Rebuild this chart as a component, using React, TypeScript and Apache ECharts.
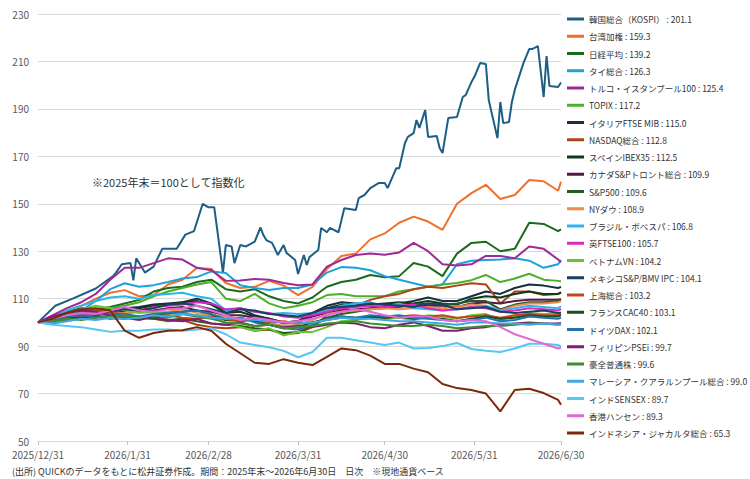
import React, { useEffect, useRef } from "react";
import * as echarts from "echarts";

const FONT = "'Noto Sans CJK JP', 'Noto Sans', sans-serif";

const tickDates = ["2025/12/31", "2026/1/31", "2026/2/28", "2026/3/31", "2026/4/30", "2026/5/31", "2026/6/30"];

const dates = [
  "2025/12/31", "2026/1/5", "2026/1/10", "2026/1/15", "2026/1/20", "2026/1/25", "2026/1/30",
  "2026/2/4", "2026/2/9", "2026/2/14", "2026/2/19", "2026/2/24", "2026/3/1", "2026/3/6",
  "2026/3/11", "2026/3/16", "2026/3/21", "2026/3/26", "2026/3/31", "2026/4/5", "2026/4/10",
  "2026/4/15", "2026/4/20", "2026/4/25", "2026/4/30", "2026/5/5", "2026/5/10", "2026/5/15",
  "2026/5/20", "2026/5/25", "2026/5/30", "2026/6/4", "2026/6/9", "2026/6/14", "2026/6/19",
  "2026/6/24", "2026/6/29", "2026/6/30",
];

const kospiDates = [
  "2025/12/31", "2026/1/6", "2026/1/12", "2026/1/20", "2026/1/26", "2026/1/27", "2026/1/29", "2026/2/1",
  "2026/2/2", "2026/2/3", "2026/2/5", "2026/2/6", "2026/2/9", "2026/2/12", "2026/2/17", "2026/2/20",
  "2026/2/23", "2026/2/26", "2026/2/28", "2026/3/2", "2026/3/5", "2026/3/6", "2026/3/8", "2026/3/9",
  "2026/3/11", "2026/3/13", "2026/3/16", "2026/3/18", "2026/3/19", "2026/3/20", "2026/3/22", "2026/3/24",
  "2026/3/26", "2026/3/27", "2026/3/30", "2026/3/31", "2026/4/2", "2026/4/3", "2026/4/4", "2026/4/7",
  "2026/4/8", "2026/4/10", "2026/4/11", "2026/4/14", "2026/4/15", "2026/4/16", "2026/4/20", "2026/4/21",
  "2026/4/23", "2026/4/25", "2026/4/28", "2026/4/30", "2026/5/1", "2026/5/4", "2026/5/5", "2026/5/7",
  "2026/5/8", "2026/5/10", "2026/5/11", "2026/5/12", "2026/5/14", "2026/5/15", "2026/5/18", "2026/5/19",
  "2026/5/20", "2026/5/22", "2026/5/25", "2026/5/27", "2026/5/28", "2026/5/30", "2026/5/31", "2026/6/2",
  "2026/6/4", "2026/6/5", "2026/6/8", "2026/6/9", "2026/6/10", "2026/6/12", "2026/6/13", "2026/6/14",
  "2026/6/17", "2026/6/19", "2026/6/20", "2026/6/22", "2026/6/24", "2026/6/25", "2026/6/26", "2026/6/29",
  "2026/6/30",
];
const kospi = [
  100, 107, 110, 114.3, 119.5, 121, 124.5, 125,
  117.7, 127, 123, 121, 123.5, 131, 131, 137,
  138.5, 150, 148.5, 148.5, 121, 132.6, 132, 125,
  132.6, 132, 134, 140, 136.8, 134.7, 133.5, 128.4,
  132.6, 129.3, 126.3, 120.4, 128.4, 124.2, 127.6, 130.5,
  139.8, 138, 139.8, 138, 143, 148.1, 147.4, 152.4,
  153.7, 156.6, 158.8, 158.8, 156.6, 165, 165, 175.6,
  178.2, 179.8, 185.3, 182, 189.5, 178.2, 178.6, 173.5,
  171.4, 186.2, 186.6, 195, 195.8, 201.3, 203.4, 209.3,
  208.9, 193.7, 177.7, 192.9, 184, 184.5, 192.9, 198,
  209.3, 215.2, 215.2, 216.5, 195, 212.3, 199.6, 199.2,
  201.1,
];

const taiwan = [100, 102.5, 105, 107, 110, 112.5, 113.6, 111, 111.5, 116, 118, 122.9, 122.5, 116.6, 114.5, 115, 117.5, 115.5, 111.5, 115, 122.5, 128, 129, 135, 137.5, 142, 144.6, 142.5, 139, 150, 154.5, 158, 152, 153.7, 160, 159.5, 155.5, 159.3];
const nikkei = [100, 102, 104.5, 106, 105.5, 106.5, 108, 109.5, 113, 114.5, 115, 117, 118, 114, 113, 114, 111, 109, 108, 110.5, 115, 117, 118, 120, 119, 119.5, 125, 123.5, 119.5, 129, 133.5, 134, 130, 131, 142, 141.5, 138.5, 139.2];
const thai = [100, 101, 103, 105, 109, 114, 116.5, 115, 115.7, 117, 118.5, 119.1, 121.5, 120.8, 115.7, 114.5, 113.7, 114.5, 114.5, 116, 121, 123.3, 123, 122, 119.5, 118, 116.5, 115, 116, 124.5, 126, 126.3, 126.5, 127, 126, 123, 124.5, 126.3];
const turkey = [100, 103, 106, 108.5, 112, 118, 123, 123, 125, 127, 126.5, 123, 122, 117.5, 117.7, 118.3, 118, 116.6, 115.7, 116, 123.5, 126.3, 128.4, 129, 128.5, 129.5, 133.5, 130, 124.5, 124, 124.5, 128, 128, 127, 132, 131, 126.5, 125.4];
const topix = [100, 101.5, 104, 105.5, 105, 106, 107, 108.5, 111, 113, 114.5, 116, 117, 110, 109, 112, 108, 106, 107, 108.5, 111.5, 112, 111, 111, 111, 113, 114, 115, 116, 116.6, 117.8, 120, 117, 118.5, 120.5, 118, 117.5, 117.2];
const italy = [100, 102, 104, 105, 104.5, 105.5, 106, 106.5, 107.5, 108, 108.5, 110, 108, 105, 106, 103, 101.5, 100, 100.5, 104, 107, 108.5, 108, 108, 107, 108, 109, 110.5, 109, 109, 111, 113, 112, 114.5, 116, 115.5, 114.5, 115];
const nasdaq = [100, 99.5, 101, 102.5, 103, 102, 103, 102, 101.5, 100.5, 101, 99, 98, 97.5, 98, 96.5, 97, 95, 95.5, 98, 103, 105.5, 107, 109.5, 111, 112, 114, 115, 114.5, 115.5, 116.5, 116, 108, 113, 113, 111.5, 112, 112.8];
const spain = [100, 101.5, 102.5, 103.5, 104, 105, 104.5, 106, 107, 107.5, 108.5, 109, 107.5, 104, 104.5, 102.5, 101.5, 99.5, 100, 103, 106, 107.5, 107, 107.5, 108, 108.5, 108, 109, 108, 107.5, 110, 111, 110.5, 112, 113, 112, 112, 112.5];
const canada = [100, 101, 102, 103, 104, 103.5, 104, 104.5, 105, 106, 106.5, 105, 104.5, 103, 103, 102, 101.5, 100, 100.5, 102.5, 104, 105, 105.5, 106, 106.5, 107, 107.5, 107, 107, 106.5, 108, 108.5, 108, 109, 109.5, 109.5, 109.5, 109.9];
const sp500 = [100, 100.5, 101.5, 102, 102.5, 101.5, 102, 102, 101.5, 101, 101.5, 100.5, 99.5, 99, 98.5, 97.5, 97, 95.5, 96, 98.5, 102, 103.5, 104.5, 105.5, 106, 106.5, 107.5, 108, 107.5, 108, 109, 109, 105.5, 107.5, 108.5, 108.5, 109, 109.6];
const nyDow = [100, 101, 102.5, 103.5, 104.5, 103.5, 104, 104.5, 104, 104.5, 105.5, 104, 103, 102.5, 101.5, 101, 100, 98.5, 99, 101, 103.5, 104.5, 105, 105.5, 106, 105.5, 106, 106.5, 106, 106.5, 107.5, 107, 105, 107, 108, 108, 108.5, 108.9];
const brazil = [100, 102, 105, 107, 109, 110.5, 111, 110, 111.5, 112, 112.5, 111, 110, 105, 106, 104.5, 103.5, 104, 103.5, 104, 105, 107, 108, 108.5, 106.5, 108, 106, 105.5, 105, 105.5, 106.5, 107, 105, 106, 107, 106.5, 106, 106.8];
const ftse = [100, 101.5, 102.5, 103, 103.5, 104, 105.5, 105, 106.5, 107, 107.5, 108.5, 108, 105.5, 106, 104.5, 104, 102.5, 102, 103, 104.5, 106, 106.5, 107, 106.5, 107, 107.5, 106, 105, 105.5, 106.5, 106, 104.5, 105, 106, 105.5, 105, 105.7];
const vietnam = [100, 101, 103, 105.5, 107, 106, 105, 104, 104.5, 103.5, 104, 103, 102.5, 99.5, 98, 96.5, 97.5, 94.5, 96, 96, 98, 100.5, 101, 102, 101.5, 102, 101, 103, 102.5, 101.5, 103, 103.5, 101, 102.5, 104, 103.5, 103.5, 104.2];
const mexico = [100, 101.5, 103, 104, 103.5, 104.5, 105.5, 105, 106, 107.5, 108, 107, 105.5, 104, 105.5, 105, 103.5, 103, 102.5, 104, 106, 106.5, 107, 108, 107.5, 107, 106.5, 108, 107.5, 105.5, 106, 106.5, 104.5, 104, 104.5, 105, 104, 104.1];
const shanghai = [100, 101, 102.5, 104, 105.5, 104.5, 103, 102, 102.5, 103, 102, 101.5, 102.5, 101, 100.5, 101, 100, 100.5, 99.5, 100, 101, 102, 101.5, 102.5, 102, 102.5, 103, 102.5, 103, 102, 102.5, 103, 102, 103, 103.5, 103, 103, 103.2];
const france = [100, 101.5, 102, 101.5, 102.5, 102, 101.5, 102.5, 103, 104, 104.5, 105, 103.5, 101, 102, 100.5, 99, 97.5, 98, 100, 101.5, 102.5, 102, 102.5, 102, 102.5, 101.5, 102, 101.5, 100.5, 101.5, 102.5, 101.5, 102, 103, 102.5, 102.5, 103.1];
const dax = [100, 101.5, 102.5, 103, 102, 103, 103.5, 102.5, 103.5, 104, 104.5, 105, 103.5, 101.5, 102, 100, 99, 97.5, 97, 99, 101.5, 102.5, 102, 103, 102.5, 103, 102, 101.5, 101, 100.5, 101, 102, 100.5, 101, 102.5, 102, 101.5, 102.1];
const philippines = [100, 102.5, 104, 105, 104.5, 103, 102, 101, 102.5, 101, 100.5, 101.5, 99.5, 99, 100, 98.5, 99, 98, 98.5, 98, 99, 100, 99.5, 98, 97.5, 99, 100, 98.5, 96.5, 96.5, 97.5, 98, 99, 99.5, 100, 99.5, 99.5, 99.7];
const australia = [100, 100.5, 101.5, 101, 102, 102.5, 103, 102, 103, 102, 103.5, 102.5, 101.5, 100, 99.5, 98.5, 99, 97.5, 98, 98.5, 99.5, 100, 100.5, 99.5, 99, 98.5, 98.5, 99, 98.5, 97.5, 98, 98.5, 98.5, 99, 99.5, 99.5, 99, 99.6];
const malaysia = [100, 99.5, 100.5, 101.5, 101, 102, 101.5, 102, 103, 102.5, 103.5, 103, 102, 101.5, 101.5, 101, 100.5, 100, 99.5, 100, 101, 102, 101.5, 101.5, 101, 100.5, 100.5, 100, 99.5, 99, 100, 100, 99.5, 99.5, 99, 99.5, 99, 99.0];
const india = [100, 99, 98.5, 98, 97, 96, 96.5, 96.5, 97, 97, 96.5, 97, 97.5, 95, 91.5, 90.5, 89.5, 88, 85.3, 87.5, 93.5, 93.5, 92.5, 91.5, 90.5, 91.5, 89, 89.2, 90, 91.3, 88.8, 88, 87.5, 89, 91, 91, 90.5, 89.7];
const hangSeng = [100, 101.5, 103, 104, 103.5, 105, 106.5, 105, 104.5, 105.5, 106, 107, 105, 103, 101, 102, 101, 100, 100.5, 101.5, 103, 104.5, 105.5, 104.5, 103, 102, 102.5, 102.5, 101, 100.5, 101, 100.5, 98, 95, 93, 91, 89, 89.3];
const indonesia = [100, 101.5, 104, 105.5, 106, 105, 96.5, 93.5, 95.5, 96.5, 96.7, 98, 96.5, 91, 87, 83, 82.5, 84.5, 83, 82, 85.5, 89, 88.3, 86, 82.5, 82.5, 80.5, 79, 74, 72.3, 71.5, 70, 62.5, 71.5, 72, 70.2, 67.3, 65.3];

const names = [
  "韓国総合（KOSPI）", "台湾加権", "日経平均", "タイ総合", "トルコ・イスタンブール100", "TOPIX",
  "イタリアFTSE MIB", "NASDAQ総合", "スペインIBEX35", "カナダS&Pトロント総合", "S&P500", "NYダウ",
  "ブラジル・ボベスパ", "英FTSE100", "ベトナムVN", "メキシコS&P/BMV IPC", "上海総合", "フランスCAC40",
  "ドイツDAX", "フィリピンPSEi", "豪全普通株", "マレーシア・クアラルンプール総合", "インドSENSEX",
  "香港ハンセン", "インドネシア・ジャカルタ総合",
];

const colors = [
  "#1D5E84", "#F0702A", "#1A6B1E", "#1DA1DB", "#9E2A97", "#4CAF2A",
  "#172E45", "#A9441B", "#113A1C", "#571848", "#255B22", "#F28A4A",
  "#2BB5EE", "#D52CC2", "#65C634", "#1B4060", "#C6461B", "#1C4A23",
  "#2272AE", "#7E1F74", "#3D8F2C", "#3DA8E2", "#56C6F4", "#DE6BD5", "#7A2A08",
];

const seriesValues = [
  kospi, taiwan, nikkei, thai, turkey, topix, italy, nasdaq, spain, canada, sp500, nyDow,
  brazil, ftse, vietnam, mexico, shanghai, france, dax, philippines, australia, malaysia,
  india, hangSeng, indonesia,
];

const annotation = "※2025年末＝100として指数化";
const footnote = "(出所) QUICKのデータをもとに松井証券作成。期間：2025年末～2026年6月30日　日次　※現地通貨ベース";

const BASE = Date.UTC(2025, 11, 31);
function dayOf(s: string): number {
  const [y, m, d] = s.split("/").map(Number);
  return Math.round((Date.UTC(y, m - 1, d) - BASE) / 86400000);
}

export default function App() {
  const ref = useRef<HTMLDivElement>(null);

  useEffect(() => {
    if (!ref.current) return;
    const chart = echarts.init(ref.current, undefined, { renderer: "svg" });
    const tickDays = tickDates.map(dayOf);
    const finals: Record<string, number> = {};
    const series = seriesValues.map((vals, i) => {
      const ds = i === 0 ? kospiDates : dates;
      const n = Math.min(ds.length, vals.length);
      const data: [number, number][] = [];
      for (let k = 0; k < n; k++) data.push([dayOf(ds[k]), vals[k]]);
      finals[names[i]] = vals[n - 1];
      return {
        name: names[i],
        type: "line",
        data,
        showSymbol: false,
        symbol: "none",
        color: colors[i],
        lineStyle: { width: 2, color: colors[i] },
        emphasis: { disabled: true },
        z: 2,
      };
    });

    chart.setOption({
      animation: false,
      textStyle: { fontFamily: FONT },
      grid: { left: 38, right: 189, top: 14, bottom: 38, containLabel: false },
      xAxis: {
        type: "value",
        min: 0,
        max: dayOf(tickDates[tickDates.length - 1]),
        splitLine: { show: false },
        axisLine: { show: true, lineStyle: { color: "#D9D9D9", width: 1 } },
        axisTick: { show: true, length: 4, customValues: tickDays, lineStyle: { color: "#BFBFBF" } },
        axisLabel: {
          customValues: tickDays,
          color: "#595959",
          fontSize: 10,
          fontFamily: FONT,
          margin: 8,
          lineHeight: 11,
          formatter: (v: number) => {
            const idx = tickDays.indexOf(Math.round(v));
            return idx >= 0 ? tickDates[idx] : "";
          },
        },
      },
      yAxis: {
        type: "value",
        min: 50,
        max: 230,
        interval: 20,
        axisLine: { show: false },
        axisTick: { show: false },
        splitLine: { show: true, lineStyle: { color: "#D9D9D9", width: 1 } },
        axisLabel: { color: "#595959", fontSize: 10, fontFamily: FONT, margin: 9, lineHeight: 10, padding: [0, 0, 4, 0] },
      },
      legend: {
        orient: "vertical",
        left: 567,
        top: 12,
        padding: 0,
        itemWidth: 17,
        itemHeight: 3,
        itemGap: 3.25,
        icon: "rect",
        selectedMode: false,
        data: names,
        formatter: (name: string) => `${name} : ${finals[name].toFixed(1)}`,
        textStyle: { fontSize: 8.5, color: "#333333", lineHeight: 14, fontFamily: FONT },
      },
      graphic: [
        {
          type: "text",
          left: 92,
          top: 176,
          style: { text: annotation, fontSize: 11, fill: "#333333", fontFamily: FONT },
        },
        {
          type: "text",
          left: 12,
          top: 467,
          style: { text: footnote, fontSize: 9, fill: "#333333", fontFamily: FONT },
        },
      ],
      series,
    });

    return () => chart.dispose();
  }, []);

  return (
    <div
      ref={ref}
      style={{ position: "fixed", left: 0, top: 0, width: 750, height: 479, background: "#ffffff" }}
    />
  );
}
